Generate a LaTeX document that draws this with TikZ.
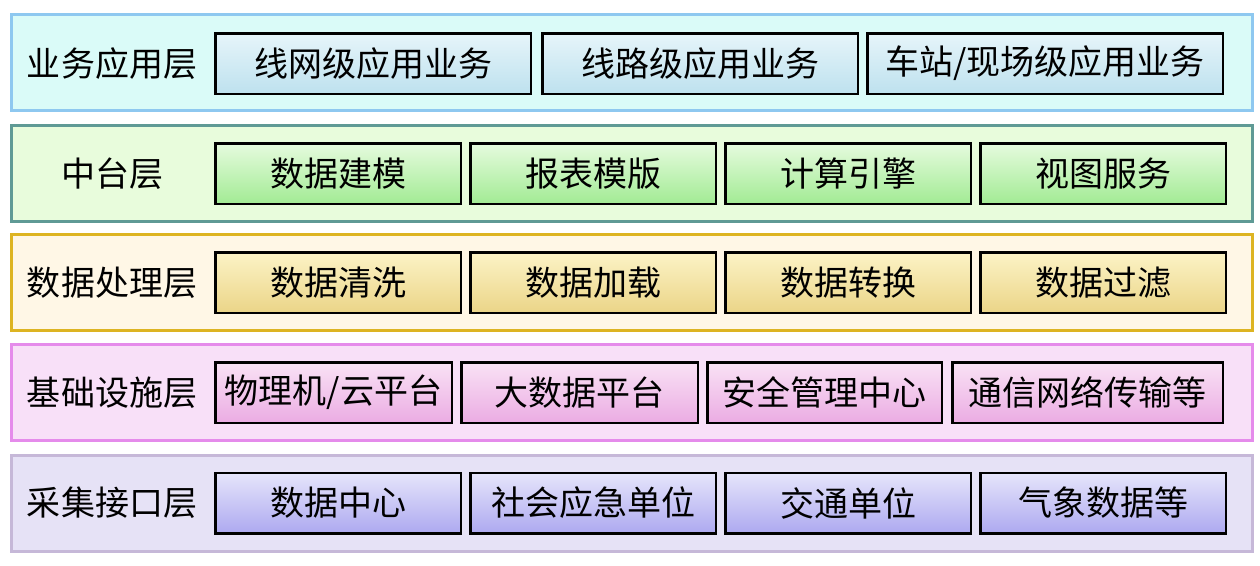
\documentclass[tikz,border=0pt]{standalone}
\usepackage{fontspec}
\setmainfont{Noto Sans CJK SC}
\usetikzlibrary{positioning}

\definecolor{ywLine}{HTML}{8EC8F0}   \definecolor{ywFill}{HTML}{DAFBF8}
\definecolor{ztLine}{HTML}{5F9A95}   \definecolor{ztFill}{HTML}{E8FCDC}
\definecolor{sjLine}{HTML}{DDB422}   \definecolor{sjFill}{HTML}{FFF7E6}
\definecolor{jcLine}{HTML}{E58BEB}   \definecolor{jcFill}{HTML}{F8E0F8}
\definecolor{cjLine}{HTML}{C6B8D8}   \definecolor{cjFill}{HTML}{E6E2F6}

\definecolor{ywTop}{HTML}{E6F5FA}   \definecolor{ywBot}{HTML}{BEE1EE}
\definecolor{ztTop}{HTML}{E6FBDE}   \definecolor{ztBot}{HTML}{A2EB94}
\definecolor{sjTop}{HTML}{FCF3C6}   \definecolor{sjBot}{HTML}{EBD588}
\definecolor{jcTop}{HTML}{F9E2F5}   \definecolor{jcBot}{HTML}{EBACE3}
\definecolor{cjTop}{HTML}{E6E5FB}   \definecolor{cjBot}{HTML}{ADA9F0}

\tikzset{
	layer/.style={draw=#1Line, fill=#1Fill, line width=3pt, minimum width=1241pt, minimum height=96pt, inner sep=0pt},
	title/.style={font=\fontsize{34}{40}\selectfont, inner sep=0pt},
	unit/.style={draw=black, line width=2.5pt, minimum height=60.5pt, inner sep=0pt, font=\fontsize{34}{40}\selectfont,
		top color=#1Top, bottom color=#1Bot},
}

\begin{document}
\begin{tikzpicture}[x=1pt, y=-1pt]
	\useasboundingbox (0,0) rectangle (1260,565);

	% Schichten
	\node[layer=yw] (yw) at (631.5,62)  {};
	\node[layer=zt] (zt) at (631.5,173) {};
	\node[layer=sj] (sj) at (631.5,282) {};
	\node[layer=jc] (jc) at (631.5,392.5) {};
	\node[layer=cj] (cj) at (631.5,503) {};

	\node[title] (ywT) at (112,63.5)  {业务应用层};
	\node[title] (ztT) at (112,173.5) {中台层};
	\node[title] (sjT) at (112,282.5) {数据处理层};
	\node[title] (jcT) at (112,392.5) {基础设施层};
	\node[title] (cjT) at (112,503)   {采集接口层};

	% 业务应用层
	\node[unit=yw, minimum width=315.5pt] (yw1) at (373,63.5) {线网级应用业务};
	\node[unit=yw, minimum width=315.5pt, right=9pt of yw1] (yw2) {线路级应用业务};
	\node[unit=yw, minimum width=355.5pt, right=7pt of yw2]  (yw3) {车站/现场级应用业务};

	% 中台层
	\node[unit=zt, minimum width=245.5pt] (zt1) at (338,173.5) {数据建模};
	\node[unit=zt, minimum width=245.5pt, right=7pt of zt1] (zt2) {报表模版};
	\node[unit=zt, minimum width=245.5pt, right=7pt of zt2] (zt3) {计算引擎};
	\node[unit=zt, minimum width=245.5pt, right=7pt of zt3] (zt4) {视图服务};

	% 数据处理层
	\node[unit=sj, minimum width=245.5pt] (sj1) at (338,282.5) {数据清洗};
	\node[unit=sj, minimum width=245.5pt, right=7pt of sj1] (sj2) {数据加载};
	\node[unit=sj, minimum width=245.5pt, right=7pt of sj2] (sj3) {数据转换};
	\node[unit=sj, minimum width=245.5pt, right=7pt of sj3] (sj4) {数据过滤};

	% 基础设施层
	\node[unit=jc, minimum width=236.5pt] (jc1) at (333.5,392.5) {物理机/云平台};
	\node[unit=jc, minimum width=236.5pt, right=7pt of jc1] (jc2) {大数据平台};
	\node[unit=jc, minimum width=234.5pt, right=7pt of jc2] (jc3) {安全管理中心};
	\node[unit=jc, minimum width=270.5pt, right=8pt of jc3] (jc4) {通信网络传输等};

	% 采集接口层
	\node[unit=cj, minimum width=245.5pt] (cj1) at (338,503) {数据中心};
	\node[unit=cj, minimum width=245.5pt, right=7pt of cj1] (cj2) {社会应急单位};
	\node[unit=cj, minimum width=245.5pt, right=7pt of cj2] (cj3) {交通单位};
	\node[unit=cj, minimum width=245.5pt, right=7pt of cj3] (cj4) {气象数据等};
\end{tikzpicture}
\end{document}
